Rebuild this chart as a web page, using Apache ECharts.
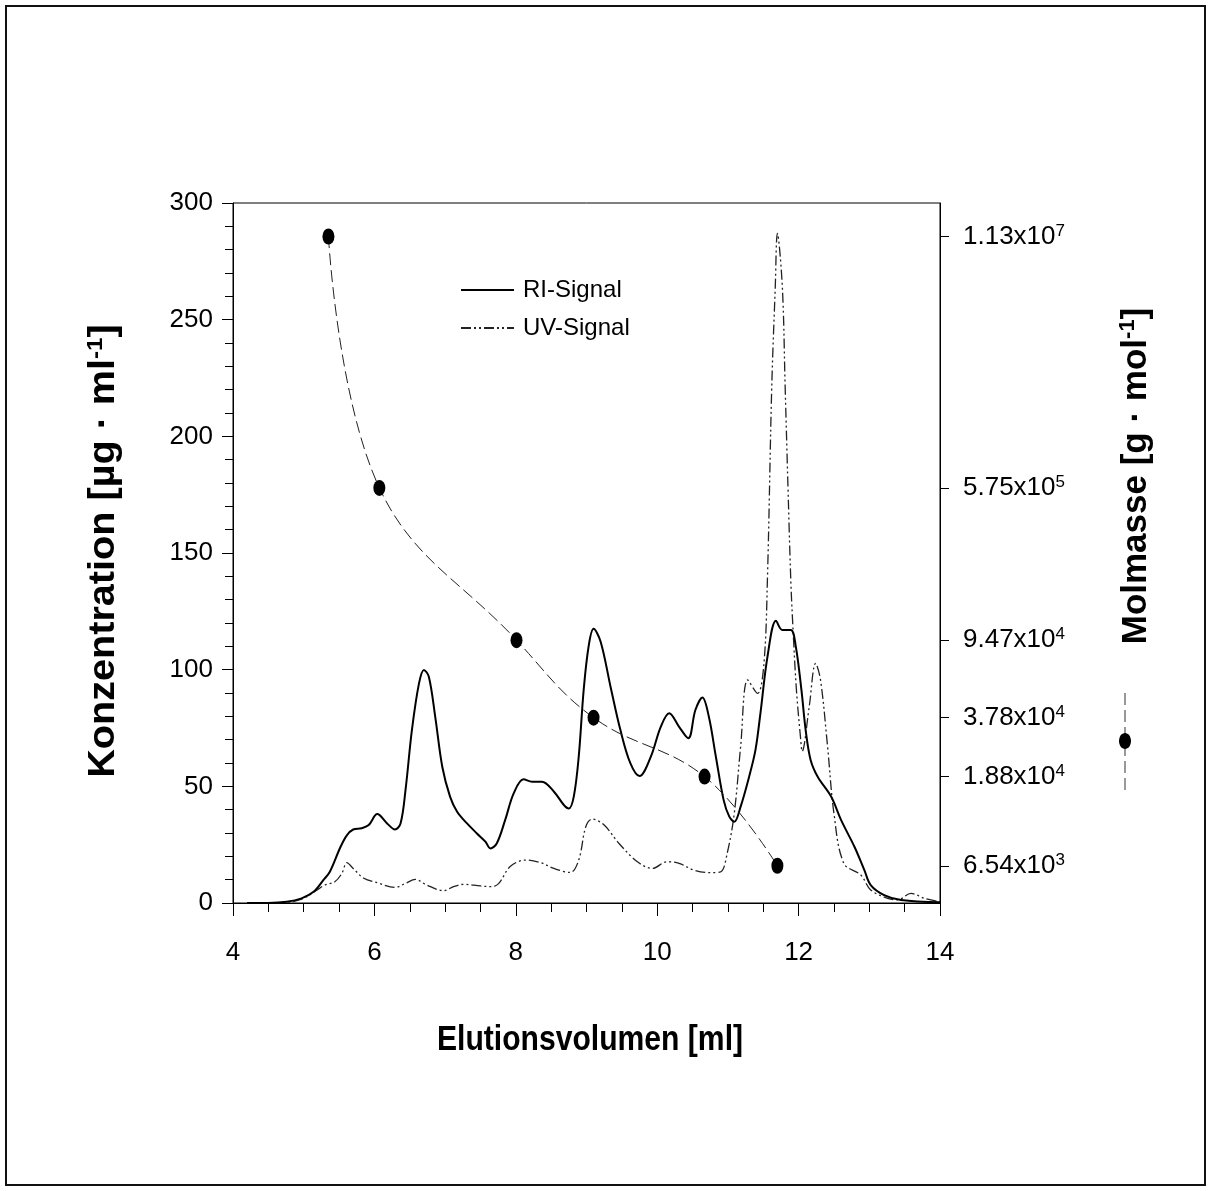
<!DOCTYPE html>
<html>
	<head>
		<meta charset="utf-8">
		<title>GPC</title>
		<script src="https://cdn.jsdelivr.net/npm/echarts@6/dist/echarts.min.js"></script>
		<style>
			html, body { margin: 0; padding: 0; background: #fff; }
		</style>
	</head>
	<body>
		<div id="main" style="width: 1210px;height:1191px;"></div>
	</body>
	<script type="text/javascript">

        // RI-Signal (Elutionsvolumen ml / Konzentration)
        var riVol = [4.2, 4.5, 4.76, 4.97, 5.14, 5.28, 5.37, 5.52, 5.61, 5.70, 5.82, 5.92, 6.04, 6.18, 6.29, 6.37, 6.44, 6.53, 6.63, 6.70,
            6.77, 6.86, 6.96, 7.07, 7.17, 7.31, 7.45, 7.57, 7.64, 7.73, 7.85, 7.97, 8.11, 8.23, 8.37, 8.54, 8.68, 8.75, 8.82, 8.89,
            8.96, 9.03, 9.10, 9.20, 9.34, 9.48, 9.62, 9.75, 9.91, 10.05, 10.17, 10.31, 10.44, 10.54, 10.64, 10.73, 10.83, 10.94, 11.02, 11.09,
            11.18, 11.30, 11.39, 11.46, 11.56, 11.68, 11.77, 11.89, 11.96, 12.04, 12.10, 12.17, 12.27, 12.46, 12.60, 12.79, 12.93, 13.02, 13.21, 13.45, 14.0];
        var riConc = [0, 0, 0.5, 2, 4.8, 9.9, 13.4, 24, 29, 31.5, 32, 33.4, 38.1, 34.1, 31.5, 34.1, 48.4, 74, 94, 99.9,
            97, 79.9, 58.4, 45.6, 39.1, 34.1, 29.8, 26.3, 23.4, 25.5, 35.6, 47, 53, 52, 52, 47.7, 42, 40.5, 45.6, 62.7,
            91.3, 110, 117.5, 112, 92.7, 74.1, 59.9, 54.4, 62.7, 75.5, 81.3, 75.5, 70.6, 82.7, 88.1, 79.9, 62.7, 44.1, 37, 34.8,
            41.3, 54.1, 65.6, 81.3, 105.6, 121, 117, 117, 110, 91.3, 74.1, 61.3, 54.1, 45.6, 35.6, 24.1, 14.1, 7.7, 3.4, 1.3, 0.3];

        // UV-Signal
        var uvVol = [4.2, 4.5, 4.76, 4.97, 5.19, 5.30, 5.44, 5.54, 5.61, 5.70, 5.85, 6.04, 6.29, 6.44, 6.58, 6.74, 6.98, 7.12, 7.26, 7.50,
            7.66, 7.76, 7.92, 8.14, 8.35, 8.54, 8.77, 8.89, 8.99, 9.08, 9.25, 9.46, 9.72, 9.93, 10.14, 10.31, 10.52, 10.76, 10.90, 10.99,
            11.09, 11.18, 11.28, 11.42, 11.51, 11.56, 11.62, 11.67, 11.70, 11.77, 11.81, 11.85, 11.89, 11.92, 11.97, 12.03, 12.05, 12.15, 12.24, 12.31,
            12.41, 12.50, 12.64, 12.88, 13.02, 13.26, 13.40, 13.59, 13.78, 14.0];
        var uvConc = [0, 0, 0.3, 1.6, 5.6, 7.7, 9.1, 12.7, 17.3, 14.8, 10.6, 8.7, 6.7, 8.4, 10.1, 7.7, 5.3, 7.0, 8, 7.3,
            7, 8.4, 15.6, 18.4, 17.3, 14.8, 13.1, 18.4, 32.7, 36, 33.4, 25.5, 17.7, 14.8, 17.7, 17, 14.1, 13, 13.4, 21.3,
            38.4, 67, 95.6, 89.8, 102.7, 140, 221, 264, 287, 264, 221, 178, 138, 118, 91, 70, 65, 84.1, 102.7, 95.6,
            67, 38.4, 17, 12, 5.6, 2, 1.3, 4.1, 2, 0.5];

        // Molmasse (g/mol) an einzelnen Punkten
        var mmVol = [5.35, 6.07, 8.01, 9.1, 10.67, 11.7];
        var mmMass = [11300000, 575000, 94700, 37800, 18800, 6540];

        function pairs(xs, ys) {
            var out = [];
            for (var i = 0; i < xs.length; i++) {
                out.push([xs[i], ys[i]]);
            }
            return out;
        }

        var FONT = "'Liberation Sans', Arial, sans-serif";

        var myChart = echarts.init(document.getElementById('main'));

	    var option = {
	        backgroundColor: '#fff',
	        animation: false,
	        textStyle: { fontFamily: FONT, color: '#000' },
	        grid: {
	            left: 233, top: 203, right: 270, bottom: 288,
	            show: true, borderColor: '#000', borderWidth: 1
	        },
	        legend: {
	            data: ['RI-Signal', 'UV-Signal'],
	            orient: 'vertical',
	            left: 455,
	            top: 271,
	            itemWidth: 53,
	            itemHeight: 14,
	            itemGap: 10,
	            itemStyle: { opacity: 0 },
	            textStyle: { fontSize: 24, fontFamily: FONT, color: '#000', lineHeight: 28, padding: [0, 0, 0, 4] }
	        },
	        xAxis: {
	            type: 'value',
	            min: 4, max: 14, interval: 2,
	            axisLine: { lineStyle: { color: '#000', width: 1 } },
	            axisTick: { inside: false, length: 13, lineStyle: { color: '#000' } },
	            minorTick: { show: true, splitNumber: 4, length: 9, lineStyle: { color: '#000' } },
	            splitLine: { show: false },
	            axisLabel: { fontSize: 26, color: '#000', margin: 37 }
	        },
	        yAxis: [{
	            type: 'value',
	            min: 0, max: 300, interval: 50,
	            axisLine: { show: true, lineStyle: { color: '#000', width: 1 } },
	            axisTick: { show: true, inside: false, length: 11, lineStyle: { color: '#000' } },
	            minorTick: { show: true, splitNumber: 5, length: 8, lineStyle: { color: '#000' } },
	            splitLine: { show: false },
	            axisLabel: { fontSize: 26, color: '#000', margin: 20 }
	        }, {
	            type: 'log',
	            logBase: 10,
	            position: 'right',
	            min: 4207, max: 16800000,
	            axisLine: { show: true, lineStyle: { color: '#000', width: 1 } },
	            axisTick: { show: true, inside: false, length: 9, customValues: mmMass, lineStyle: { color: '#000' } },
	            minorTick: { show: false },
	            splitLine: { show: false },
	            axisLabel: {
	                customValues: mmMass,
	                margin: 23,
	                formatter: function (v) {
	                    var e = Math.floor(Math.log(v) / Math.LN10 + 1e-9);
	                    var m = (v / Math.pow(10, e)).toFixed(2);
	                    return '{m|' + m + 'x10}{e|' + e + '}';
	                },
	                rich: {
	                    m: { fontSize: 26, color: '#000', fontFamily: FONT, lineHeight: 28 },
	                    e: { fontSize: 17, color: '#000', fontFamily: FONT, verticalAlign: 'top', lineHeight: 14 }
	                }
	            }
	        }],
	        series: [{
	            name: 'RI-Signal',
	            type: 'line',
	            data: pairs(riVol, riConc),
	            smooth: 0.35,
	            symbol: 'none',
	            lineStyle: { color: '#000', width: 2 },
	            itemStyle: { color: '#000' },
	            z: 3
	        }, {
	            name: 'UV-Signal',
	            type: 'line',
	            data: pairs(uvVol, uvConc),
	            smooth: 0.35,
	            symbol: 'none',
	            lineStyle: { color: '#222', width: 1.3, type: [10, 3, 2, 3, 2, 3] },
	            itemStyle: { color: '#222' },
	            z: 2
	        }, {
	            name: 'Molmasse',
	            type: 'line',
	            yAxisIndex: 1,
	            data: pairs(mmVol, mmMass),
	            smooth: 0.4,
	            symbol: 'circle',
	            symbolSize: [12, 16],
	            lineStyle: { color: '#222', width: 1, type: [12, 5] },
	            itemStyle: { color: '#000' },
	            z: 4
	        }],
	        graphic: [{
	            type: 'rect',
	            shape: { x: 6, y: 6, width: 1199, height: 1179 },
	            style: { fill: 'none', stroke: '#111', lineWidth: 2 },
	            silent: true
	        }, {
	            type: 'text',
	            x: 590, y: 1040,
	            scaleX: 0.86,
	            style: {
	                text: 'Elutionsvolumen [ml]',
	                font: 'bold 35px ' + FONT,
	                fill: '#000',
	                align: 'center',
	                verticalAlign: 'middle'
	            }
	        }, {
	            type: 'text',
	            x: 104, y: 551,
	            rotation: Math.PI / 2,
	            scaleX: 1.1,
	            style: {
	                text: '{t|Konzentration [µg · ml}{s|-1}{t|]}',
	                align: 'center',
	                verticalAlign: 'middle',
	                rich: {
	                    t: { fontSize: 36, fontWeight: 'bold', fontFamily: FONT, fill: '#000', lineHeight: 38 },
	                    s: { fontSize: 22, fontWeight: 'bold', fontFamily: FONT, fill: '#000', verticalAlign: 'top', lineHeight: 20 }
	                }
	            }
	        }, {
	            type: 'text',
	            x: 1136, y: 476,
	            rotation: Math.PI / 2,
	            style: {
	                text: '{t|Molmasse [g · mol}{s|-1}{t|]}',
	                align: 'center',
	                verticalAlign: 'middle',
	                rich: {
	                    t: { fontSize: 35, fontWeight: 'bold', fontFamily: FONT, fill: '#000', lineHeight: 38 },
	                    s: { fontSize: 22, fontWeight: 'bold', fontFamily: FONT, fill: '#000', verticalAlign: 'top', lineHeight: 20 }
	                }
	            }
	        }, {
	            type: 'line',
	            shape: { x1: 1125, y1: 693, x2: 1125, y2: 790 },
	            style: { stroke: '#333', lineWidth: 1, lineDash: [12, 5] }
	        }, {
	            type: 'ellipse',
	            shape: { cx: 1125, cy: 741, rx: 6, ry: 8 },
	            style: { fill: '#000' }
	        }]
	    };

	    myChart.setOption(option);

	</script>
</html>
